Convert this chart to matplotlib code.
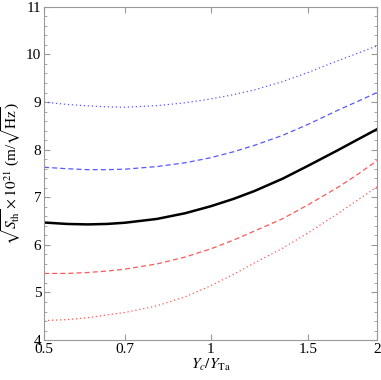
import matplotlib
matplotlib.use("Agg")
import matplotlib.pyplot as plt
from matplotlib.ticker import FixedLocator, NullLocator, MultipleLocator

# Yc/YTa sample points and curve values
ratio = [0.5, 0.55, 0.6, 0.65, 0.7, 0.8, 0.9, 1.0, 1.1, 1.2, 1.35, 1.5, 1.7, 1.85, 2.0]
blue_dotted = [9.00, 8.95, 8.92, 8.90, 8.89, 8.925, 8.985, 9.065, 9.155, 9.255, 9.43, 9.62, 9.87, 10.03, 10.18]
blue_dashed = [7.63, 7.60, 7.58, 7.58, 7.59, 7.645, 7.725, 7.83, 7.955, 8.09, 8.30, 8.53, 8.83, 9.02, 9.20]
black_solid = [6.47, 6.44, 6.43, 6.44, 6.465, 6.545, 6.665, 6.81, 6.965, 7.13, 7.39, 7.66, 7.99, 8.22, 8.43]
red_dashed = [5.40, 5.40, 5.42, 5.45, 5.49, 5.60, 5.745, 5.915, 6.10, 6.29, 6.55, 6.84, 7.21, 7.49, 7.77]
red_dotted = [4.41, 4.43, 4.47, 4.53, 4.58, 4.72, 4.91, 5.14, 5.38, 5.62, 5.93, 6.25, 6.66, 6.95, 7.22]

xticks = [0.5, 0.7, 1, 1.5, 2]
xticklabels = ["0.5", "0.7", "1", "1.5", "2"]

plt.rcParams['font.family'] = ['Liberation Serif', 'DejaVu Serif']
plt.rcParams['mathtext.fontset'] = 'stix'

fig = plt.figure(figsize=(3.81, 3.80), dpi=100)
ax = fig.add_axes([0.1155, 0.105, 0.874, 0.877])

blue = '#5858ff'
red = '#ff5858'
ax.plot(ratio, blue_dotted, color=blue, lw=0.9, ls=(0, (1, 2.2)))
ax.plot(ratio, blue_dashed, color=blue, lw=0.9, ls=(0, (4, 2.5)))
ax.plot(ratio, black_solid, color='black', lw=1.8)
ax.plot(ratio, red_dashed, color=red, lw=0.9, ls=(0, (4, 2.5)))
ax.plot(ratio, red_dotted, color=red, lw=0.9, ls=(0, (1, 2.2)))

ax.set_xscale('log')
ax.set_xlim(0.5, 2)
ax.set_ylim(4, 11)
ax.xaxis.set_major_locator(FixedLocator(xticks))
ax.set_xticklabels(xticklabels)
ax.xaxis.set_minor_locator(NullLocator())
ax.yaxis.set_major_locator(MultipleLocator(1))
ax.yaxis.set_minor_locator(MultipleLocator(0.2))

for s in ax.spines.values():
    s.set_color('#999999')
    s.set_linewidth(0.8)
ax.tick_params(which='both', direction='in', color='#999999', top=True, right=True,
               labelsize=11, pad=2)
ax.tick_params(which='major', length=4, width=0.8)
ax.tick_params(which='minor', length=2, width=0.6)

ax.set_xlabel(r'$Y_c/Y_{\rm Ta}$', fontsize=11, labelpad=1)
ax.set_ylabel(r'$\sqrt{S_{\rm th}}\times10^{21}$ (m/$\sqrt{\rm Hz}$)', fontsize=11, labelpad=2)

fig.savefig('out.png', dpi=100)
